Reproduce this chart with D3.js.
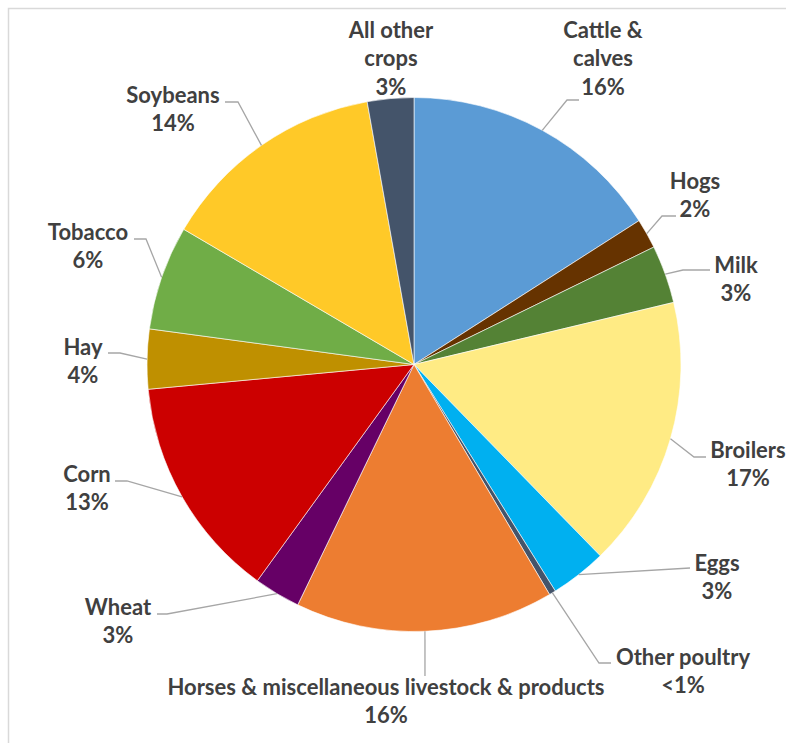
<!DOCTYPE html>
<html>
<head>
<meta charset="utf-8">
<script src="https://cdn.jsdelivr.net/npm/d3@7"></script>
<style>
  body { margin: 0; background: #fff; }
  svg text { font-family: Lato, "Open Sans", sans-serif; font-weight: 700; fill: #404040; }
</style>
</head>
<body>
<div id="chart"></div>
<script>
// Slice names (clockwise from 12 o'clock), shares in percent and their printed labels
const categories = ["Cattle & calves", "Hogs", "Milk", "Broilers", "Eggs", "Other poultry",
  "Horses & miscellaneous livestock & products", "Wheat", "Corn", "Hay", "Tobacco",
  "Soybeans", "All other crops"];
const shares = [15.9, 1.8, 3.5, 16.4, 3.4, 0.4, 15.6, 2.8, 13.5, 3.6, 6.3, 13.7, 2.8];
const shareLabels = ["16%", "2%", "3%", "17%", "3%", "<1%", "16%", "3%", "13%", "4%", "6%", "14%", "3%"];
const labelLines = [["Cattle &", "calves"], ["Hogs"], ["Milk"], ["Broilers"], ["Eggs"], ["Other poultry"],
  ["Horses & miscellaneous livestock & products"], ["Wheat"], ["Corn"], ["Hay"], ["Tobacco"],
  ["Soybeans"], ["All other", "crops"]];

const colors = ["#5b9bd5", "#663300", "#548235", "#ffeb84", "#00b0f0", "#44546a",
  "#ed7d31", "#660066", "#cc0000", "#bf9000", "#70ad47", "#ffc928", "#44546a"];

// label placement: text centre x, first line centre y, leader elbow and end (null = no leader)
const labelPos = [
  { x: 603, y: 30, elbow: [567, 100], end: [579, 100] },
  { x: 695, y: 181, elbow: [662, 216], end: [676, 216] },
  { x: 736, y: 265, elbow: [683, 270], end: [710, 270] },
  { x: 748, y: 450, elbow: [694, 457], end: [706, 457] },
  { x: 717, y: 563, elbow: [690, 568], end: [690, 568] },
  { x: 683, y: 657, elbow: [599, 663], end: [611, 663] },
  { x: 386, y: 687, elbow: [425, 676], end: [425, 676] },
  { x: 118, y: 607, elbow: [167, 614], end: [157, 614] },
  { x: 87, y: 474, elbow: [127, 481], end: [115, 481] },
  { x: 83, y: 347, elbow: [120, 353], end: [108, 353] },
  { x: 88, y: 232, elbow: [146, 239], end: [134, 239] },
  { x: 173, y: 95, elbow: [238, 102], end: [225, 102] },
  { x: 391, y: 30, elbow: null, end: null }
];

const W = 786, H = 743;
const cx = 414, cy = 364.5, R = 267;
const lineH = 28.5;

const svg = d3.select("#chart").append("svg")
  .attr("width", W).attr("height", H);

// chart frame
svg.append("rect")
  .attr("x", 8.5).attr("y", 8.5)
  .attr("width", 900).attr("height", 900)
  .attr("fill", "none")
  .attr("stroke", "#d9d9d9")
  .attr("stroke-width", 1.5);

const data = categories.map((c, i) => ({ name: c, value: shares[i], label: shareLabels[i], lines: labelLines[i], color: colors[i], pos: labelPos[i] }));

const pie = d3.pie().sort(null).value(d => d.value);
const arc = d3.arc().innerRadius(0).outerRadius(R);
const arcs = pie(data);

const g = svg.append("g").attr("transform", `translate(${cx},${cy})`);

g.selectAll("path.slice")
  .data(arcs)
  .enter()
  .append("path")
  .attr("class", "slice")
  .attr("d", arc)
  .attr("fill", d => d.data.color)
  .attr("stroke", "#ffffff")
  .attr("stroke-width", 0.6);

// leader lines: from the slice's outer edge at its mid angle to the elbow, then to the label
svg.selectAll("polyline.leader")
  .data(arcs.filter(d => d.data.pos.elbow))
  .enter()
  .append("polyline")
  .attr("class", "leader")
  .attr("points", d => {
    const a = (d.startAngle + d.endAngle) / 2;
    const sx = cx + R * Math.sin(a), sy = cy - R * Math.cos(a);
    return [[sx, sy], d.data.pos.elbow, d.data.pos.end].map(p => p.join(",")).join(" ");
  })
  .attr("fill", "none")
  .attr("stroke", "#a6a6a6")
  .attr("stroke-width", 1.3);

// labels
const labels = svg.selectAll("text.lbl")
  .data(arcs)
  .enter()
  .append("text")
  .attr("class", "lbl")
  .attr("text-anchor", "middle")
  .style("font-size", "22px");

labels.each(function (d) {
  const t = d3.select(this);
  const rows = d.data.lines.concat([d.data.label]);
  rows.forEach((r, i) => {
    t.append("tspan")
      .attr("x", d.data.pos.x)
      .attr("y", d.data.pos.y + i * lineH)
      .attr("dy", "0.36em")
      .text(r);
  });
});
</script>
</body>
</html>
